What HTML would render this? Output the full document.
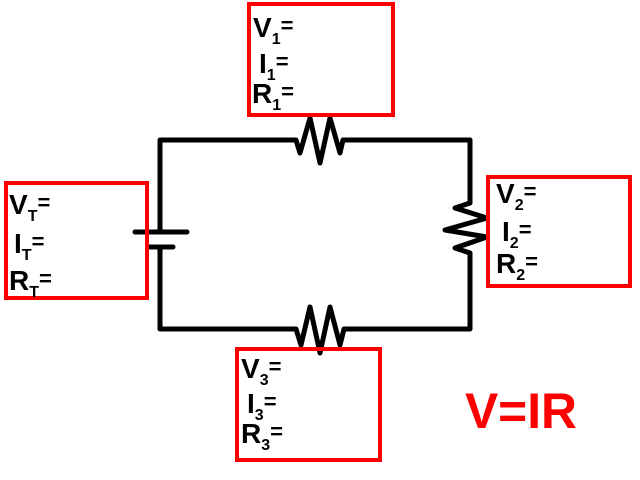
<!DOCTYPE html>
<html><head><meta charset="utf-8"><style>
html,body{margin:0;padding:0;background:#fff;}
svg{display:block;}
text{font-family:"Liberation Sans",Arial,sans-serif;font-weight:bold;}
</style></head><body>
<svg width="640" height="480" viewBox="0 0 640 480" xmlns="http://www.w3.org/2000/svg">
<g fill="none" stroke="#000" stroke-width="5" stroke-linejoin="round" stroke-linecap="round">
<polyline points="160,232 160,140 296,140 300,153 310,118 320,163 330,118 340,153 343,140 470,140 470,203 455,208 487,218 445,230 487,237 455,248 470,253 470,329 344,329 340,345 330,307 320,353 310,307 301,345 296,329 160,329 160,247"/>
<line x1="135" y1="232" x2="187" y2="232"/>
<line x1="150" y1="247" x2="173" y2="247"/>
</g>
<g fill="none" stroke="#f00" stroke-width="4">
<rect x="249" y="4" width="144" height="111"/>
<rect x="6" y="183" width="141" height="115"/>
<rect x="488" y="177" width="142" height="109"/>
<rect x="237" y="349" width="143" height="111"/>
</g>
<g font-size="28" fill="#000">
<text x="253" y="37">V<tspan font-size="16" dy="7">1</tspan><tspan dy="-11" font-size="22">=</tspan></text>
<text x="259" y="73">I<tspan font-size="16" dy="7">1</tspan><tspan dy="-11" font-size="22">=</tspan></text>
<text x="252" y="103">R<tspan font-size="16" dy="7">1</tspan><tspan dy="-11" font-size="22">=</tspan></text>

<text x="9" y="214">V<tspan font-size="16" dy="7">T</tspan><tspan dy="-11" font-size="22">=</tspan></text>
<text x="14" y="253">I<tspan font-size="16" dy="7">T</tspan><tspan dy="-11" font-size="22">=</tspan></text>
<text x="9" y="290">R<tspan font-size="16" dy="7">T</tspan><tspan dy="-11" font-size="22">=</tspan></text>

<text x="496" y="203">V<tspan font-size="16" dy="7">2</tspan><tspan dy="-11" font-size="22">=</tspan></text>
<text x="502" y="241">I<tspan font-size="16" dy="7">2</tspan><tspan dy="-11" font-size="22">=</tspan></text>
<text x="496" y="273">R<tspan font-size="16" dy="7">2</tspan><tspan dy="-11" font-size="22">=</tspan></text>

<text x="241" y="378">V<tspan font-size="16" dy="7">3</tspan><tspan dy="-11" font-size="22">=</tspan></text>
<text x="247" y="413">I<tspan font-size="16" dy="7">3</tspan><tspan dy="-11" font-size="22">=</tspan></text>
<text x="241" y="443">R<tspan font-size="16" dy="7">3</tspan><tspan dy="-11" font-size="22">=</tspan></text>
</g>
<text x="465" y="428" font-size="50" fill="#f00" textLength="112" lengthAdjust="spacingAndGlyphs">V=IR</text>
</svg>
</body></html>
